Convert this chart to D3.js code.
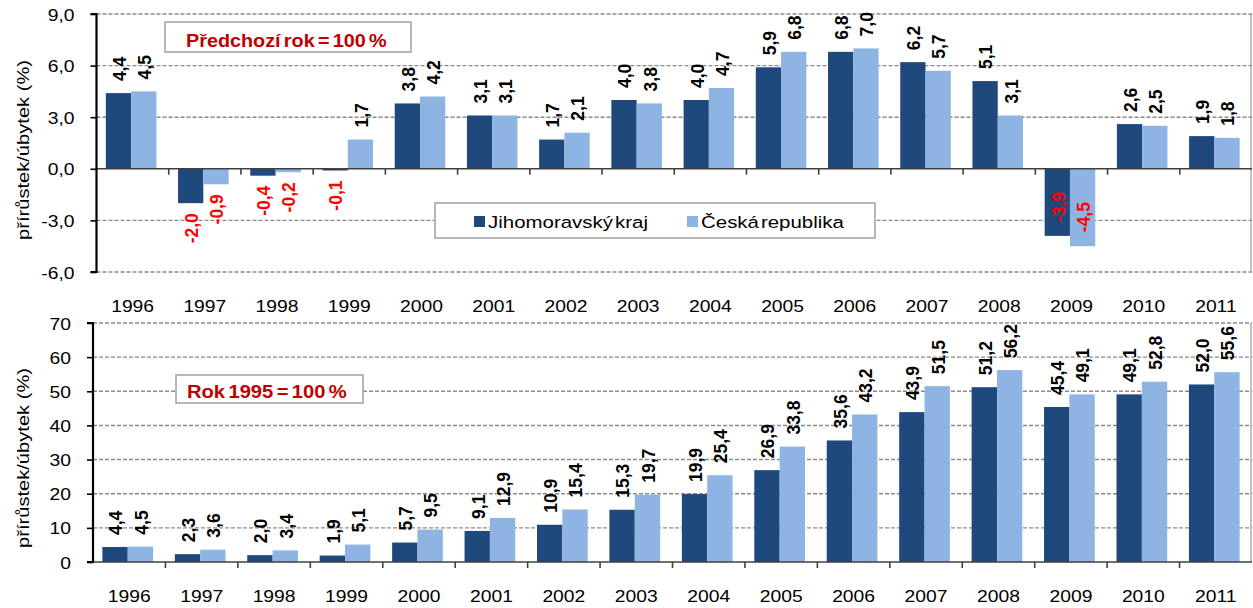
<!DOCTYPE html>
<html>
<head>
<meta charset="utf-8">
<script src="https://cdn.jsdelivr.net/npm/d3@7"></script>
<style>
  html, body { margin: 0; padding: 0; background: #fff; }
  svg { display: block; font-family: "Liberation Sans", Arial, sans-serif; }
</style>
</head>
<body>
<svg id="chart" width="1253" height="608"></svg>
<script>
// Roky a hodnoty indexů
const years = ["1996","1997","1998","1999","2000","2001","2002","2003","2004","2005","2006","2007","2008","2009","2010","2011"];
const seriesNames = ["Jihomoravský kraj", "Česká republika"];

// Předchozí rok = 100 %
const jmkPrev = [4.4, -2.0, -0.4, -0.1, 3.8, 3.1, 1.7, 4.0, 4.0, 5.9, 6.8, 6.2, 5.1, -3.9, 2.6, 1.9];
const crPrev  = [4.5, -0.9, -0.2, 1.7, 4.2, 3.1, 2.1, 3.8, 4.7, 6.8, 7.0, 5.7, 3.1, -4.5, 2.5, 1.8];

// Rok 1995 = 100 %
const jmkBase = [4.4, 2.3, 2.0, 1.9, 5.7, 9.1, 10.9, 15.3, 19.9, 26.9, 35.6, 43.9, 51.2, 45.4, 49.1, 52.0];
const crBase  = [4.5, 3.6, 3.4, 5.1, 9.5, 12.9, 15.4, 19.7, 25.4, 33.8, 43.2, 51.5, 56.2, 49.1, 52.8, 55.6];

const topTicks = [-6, -3, 0, 3, 6, 9];
const bottomTicks = [0, 10, 20, 30, 40, 50, 60, 70];

const colors = ["#1F497D", "#8DB4E2"];
const gridColor = "#8a8a8a";
const wide = 1.17;   // rozšíření běžného písma
const fmt = v => d3.format(".1f")(v).replace(".", ",").replace("−", "-");

const svg = d3.select("#chart");

function panel(opts) {
  const g = svg.append("g");
  const x0 = d3.scaleBand().domain(years)
    .range([opts.left, opts.right]).paddingInner(0.3).paddingOuter(0.15);
  const x1 = d3.scaleBand().domain(seriesNames).range([0, x0.bandwidth()]);
  const y = d3.scaleLinear().domain(opts.domain).range([opts.bottom, opts.top]);
  const step = x0.step();

  // mřížka
  g.append("g").selectAll("line")
    .data(opts.ticks.filter(t => t !== 0))
    .join("line")
    .attr("x1", opts.left).attr("x2", opts.right)
    .attr("y1", d => y(d)).attr("y2", d => y(d))
    .attr("stroke", gridColor).attr("stroke-width", 1.4)
    .attr("stroke-dasharray", "4,2");

  // pravý okraj
  g.append("line")
    .attr("x1", opts.right - 1).attr("x2", opts.right - 1)
    .attr("y1", opts.top).attr("y2", opts.bottom)
    .attr("stroke", "#9a9a9a").attr("stroke-width", 1.2);

  // sloupce
  const series = [opts.a, opts.b];
  const groups = g.append("g").selectAll("g")
    .data(years).join("g")
    .attr("transform", d => `translate(${x0(d) - 1.5},0)`);
  const cells = (d, i) => seriesNames.map((s, k) => ({ s, k, v: series[k][i] }));
  groups.selectAll("rect")
    .data(cells)
    .join("rect")
    .attr("x", d => x1(d.s))
    .attr("width", x1.bandwidth())
    .attr("y", d => y(Math.max(0, d.v)))
    .attr("height", d => Math.abs(y(d.v) - y(0)))
    .attr("fill", d => colors[d.k]);

  // popisky hodnot
  const inside = d => d.v < 0 && y(d.v) + 42 > opts.bottom;
  groups.selectAll("text")
    .data(cells)
    .join("text")
    .attr("transform", d => {
      const cx = x1(d.s) + x1.bandwidth() / 2 + 1;
      let yy;
      if (d.v >= 0) yy = y(d.v) - 12;
      else if (inside(d)) yy = y(d.v) - 14;
      else yy = y(d.v) + 10;
      return `translate(${cx},${yy}) rotate(-90)`;
    })
    .attr("text-anchor", d => (d.v >= 0 || inside(d)) ? "start" : "end")
    .attr("dy", "0.36em")
    .attr("font-size", 17.5)
    .attr("font-weight", "bold")
    .attr("fill", d => d.v < 0 ? "#FF0000" : "#000")
    .text(d => fmt(d.v));

  // osa x (v nule) s dílky na hranicích kategorií
  g.append("line")
    .attr("x1", opts.left).attr("x2", opts.right)
    .attr("y1", y(0)).attr("y2", y(0))
    .attr("stroke", "#404040").attr("stroke-width", 1.6);
  g.append("g").selectAll("line")
    .data(years.slice(1))
    .join("line")
    .attr("x1", d => x0(d) - step * 0.15).attr("x2", d => x0(d) - step * 0.15)
    .attr("y1", y(0)).attr("y2", y(0) + 6)
    .attr("stroke", "#404040").attr("stroke-width", 1.6);

  // popisky let
  g.append("g").selectAll("text")
    .data(years).join("text")
    .attr("transform", d => `translate(${x0(d) + x0.bandwidth() / 2},${opts.yearY}) scale(${wide},1)`)
    .attr("text-anchor", "middle")
    .attr("font-size", 16.5)
    .attr("fill", "#000")
    .text(d => d);

  // osa y
  const yAxis = d3.axisLeft(y).tickValues(opts.ticks).tickSize(6)
    .tickFormat(opts.tickFormat);
  const ya = g.append("g").attr("transform", `translate(${opts.left},0)`).call(yAxis);
  ya.select(".domain").attr("stroke", "#000").attr("stroke-width", 2.2)
    .attr("d", `M-6,${opts.top}H0V${opts.bottom}H-6`);
  ya.selectAll(".tick line").attr("stroke", "#000").attr("stroke-width", 1.6);
  ya.selectAll(".tick text")
    .attr("x", null).attr("dy", null)
    .attr("transform", `translate(-22,6) scale(${wide},1)`)
    .attr("font-family", "\"Liberation Sans\", Arial, sans-serif")
    .attr("font-size", 16.5)
    .attr("fill", "#000");

  // název osy y
  g.append("text")
    .attr("transform", `translate(29,${opts.titleY}) rotate(-90) scale(1.22,1)`)
    .attr("text-anchor", "middle")
    .attr("font-size", 16.5)
    .attr("fill", "#000")
    .text("přírůstek/úbytek (%)");

  // rámeček s popisem
  const b = opts.box;
  g.append("rect")
    .attr("x", b.x).attr("y", b.y).attr("width", b.w).attr("height", b.h)
    .attr("fill", "#fff").attr("stroke", "#a6a6a6").attr("stroke-width", 1.6);
  g.append("text")
    .attr("transform", `translate(${b.tx},${b.ty}) scale(${b.sx},1)`)
    .attr("font-size", 18).attr("font-weight", "bold")
    .attr("word-spacing", "-2px")
    .attr("fill", "#C00000")
    .text(b.text);

  return { g, x0, y };
}

panel({
  left: 96.5, right: 1252, top: 14, bottom: 272,
  domain: [-6, 9], ticks: topTicks,
  tickFormat: d => fmt(d),
  a: jmkPrev, b: crPrev,
  yearY: 312, titleY: 150,
  box: { x: 165, y: 22, w: 246, h: 30, tx: 186, ty: 47, sx: 1.1, text: "Předchozí rok = 100 %" }
});

panel({
  left: 93, right: 1252, top: 323, bottom: 562,
  domain: [0, 70], ticks: bottomTicks,
  tickFormat: d => String(d),
  a: jmkBase, b: crBase,
  yearY: 602, titleY: 458,
  box: { x: 176, y: 375, w: 187, h: 28, tx: 187, ty: 398, sx: 1.12, text: "Rok 1995 = 100 %" }
});

// legenda
const lg = svg.append("g");
lg.append("rect")
  .attr("x", 435).attr("y", 203).attr("width", 440).attr("height", 35)
  .attr("fill", "#fff").attr("stroke", "#a6a6a6").attr("stroke-width", 1.6);
const legendX = [474, 687];
seriesNames.forEach((name, i) => {
  lg.append("rect")
    .attr("x", legendX[i]).attr("y", 216).attr("width", 11).attr("height", 11)
    .attr("fill", colors[i]);
  lg.append("text")
    .attr("transform", `translate(${legendX[i] + 14},228) scale(1.24,1)`)
    .attr("font-size", 16.5)
    .attr("word-spacing", "-3px")
    .attr("fill", "#000")
    .text(name);
});
</script>
</body>
</html>
